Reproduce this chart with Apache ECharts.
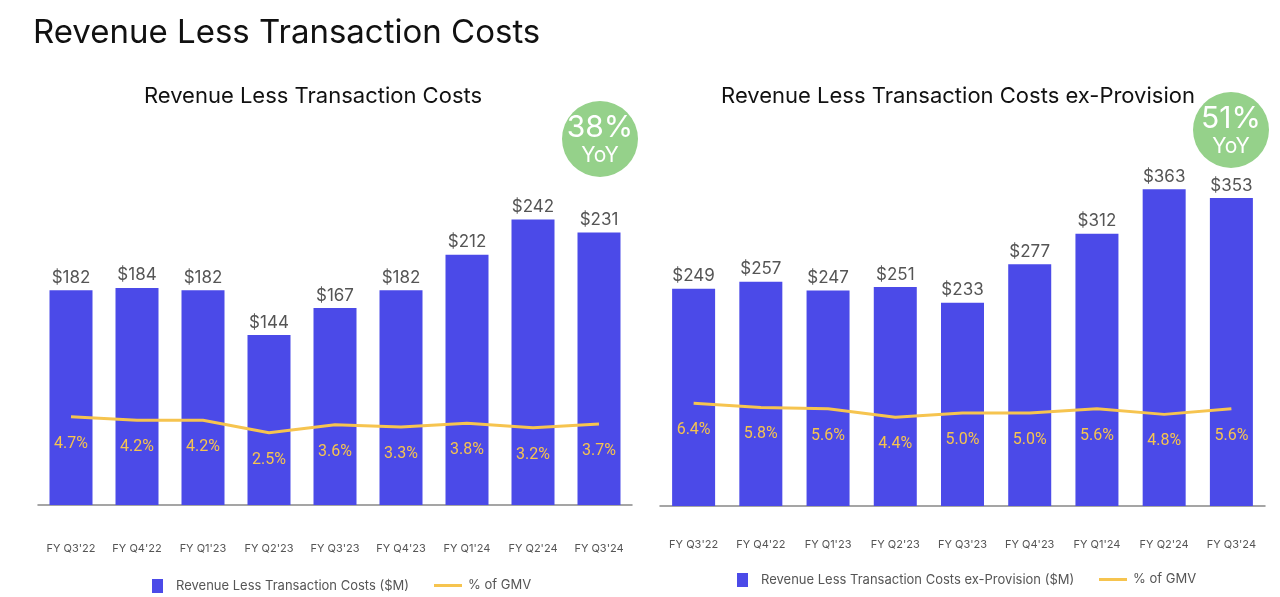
<!DOCTYPE html>
<html>
<head>
<meta charset="utf-8">
<script src="https://cdn.jsdelivr.net/npm/echarts@6/dist/echarts.min.js"></script>
<style>
  html, body { margin: 0; padding: 0; background: #fff; }
  #chart { width: 1280px; height: 597px; }
</style>
</head>
<body>
<div id="chart"></div>
<script>
const quarters = ["FY Q3'22", "FY Q4'22", "FY Q1'23", "FY Q2'23", "FY Q3'23", "FY Q4'23", "FY Q1'24", "FY Q2'24", "FY Q3'24"]

// left chart
const revenue = [182, 184, 182, 144, 167, 182, 212, 242, 231]
const revenueGmv = [4.7, 4.2, 4.2, 2.5, 3.6, 3.3, 3.8, 3.2, 3.7]
// right chart
const revenueExProv = [249, 257, 247, 251, 233, 277, 312, 363, 353]
const exProvGmv = [6.4, 5.8, 5.6, 4.4, 5.0, 5.0, 5.6, 4.8, 5.6]

const yoyLeft = '38%'
const yoyRight = '51%'

const FONT = 'Inter, "Noto Sans", sans-serif'
const BAR = '#4B4AE8'
const LINE = '#F6C44F'
const GREEN = '#95D18A'

const chart = echarts.init(document.getElementById('chart'))

const xAxisBase = (gridIndex, margin) => ({
  type: 'category',
  gridIndex,
  data: quarters,
  axisLine: { lineStyle: { color: '#888', width: 1.5 } },
  axisTick: { show: false },
  axisLabel: { color: '#555', fontSize: 11, fontFamily: FONT, margin },
})

const barSeries = (name, data, idx) => ({
  name,
  type: 'bar',
  xAxisIndex: idx,
  yAxisIndex: idx * 2,
  data,
  barWidth: 43,
  itemStyle: { color: BAR },
  label: {
    show: true,
    position: 'top',
    distance: 4,
    formatter: (p) => '$' + p.value,
    color: '#555',
    fontSize: 17,
    fontFamily: FONT,
  },
})

// symbolSize 0 so labels still render (symbol 'none' drops them)
const lineSeries = (data, idx) => ({
  name: '% of GMV',
  type: 'line',
  xAxisIndex: idx,
  yAxisIndex: idx * 2 + 1,
  data,
  symbol: 'circle',
  symbolSize: 0,
  showSymbol: true,
  z: 5,
  lineStyle: { color: LINE, width: 3 },
  itemStyle: { color: LINE },
  label: {
    show: true,
    position: 'bottom',
    distance: 19,
    formatter: (p) => p.value.toFixed(1) + '%',
    color: LINE,
    fontSize: 16,
    fontFamily: 'Roboto, sans-serif',
  },
})

const legendCommon = {
  orient: 'horizontal',
  padding: 0,
  textStyle: { color: '#555', fontSize: 13, fontFamily: FONT, padding: [0, 0, 0, 8] },
  selectedMode: false,
}

const option = {
  animation: false,
  backgroundColor: '#fff',
  title: [
    {
      text: 'Revenue Less Transaction Costs',
      left: 28, top: 12,
      textStyle: { fontSize: 33, fontWeight: 'normal', color: '#111', fontFamily: FONT },
    },
    {
      text: 'Revenue Less Transaction Costs',
      left: 308, top: 80, textAlign: 'center',
      textStyle: { fontSize: 22, fontWeight: 'normal', color: '#111', fontFamily: FONT },
    },
    {
      text: 'Revenue Less Transaction Costs ex-Provision',
      left: 953, top: 80, textAlign: 'center',
      textStyle: { fontSize: 22, fontWeight: 'normal', color: '#111', fontFamily: FONT },
    },
  ],
  legend: [
    { ...legendCommon, left: 152, top: 579, itemWidth: 11, itemHeight: 14,
      data: [{ name: 'Revenue Less Transaction Costs ($M)', icon: 'rect' }] },
    { ...legendCommon, left: 434, top: 579, itemWidth: 28, itemHeight: 3,
      textStyle: { ...legendCommon.textStyle, padding: [0, 0, 0, 1] },
      data: [{ name: '% of GMV', icon: 'rect' }] },
    { ...legendCommon, left: 737, top: 573, itemWidth: 11, itemHeight: 14,
      data: [{ name: 'Revenue Less Transaction Costs ex-Provision ($M)', icon: 'rect' }] },
    { ...legendCommon, left: 1099, top: 573, itemWidth: 28, itemHeight: 3,
      textStyle: { ...legendCommon.textStyle, padding: [0, 0, 0, 1] },
      data: [{ name: '% of GMV', icon: 'rect' }] },
  ],
  grid: [
    { left: 38, right: 648, top: 151, bottom: 92 },
    { left: 660, right: 15, top: 157, bottom: 91 },
  ],
  xAxis: [xAxisBase(0, 38), xAxisBase(1, 33)],
  yAxis: [
    { type: 'value', gridIndex: 0, min: 0, max: 300, show: false },
    { type: 'value', gridIndex: 0, min: -7.4, max: 41.1, show: false },
    { type: 'value', gridIndex: 1, min: 0, max: 400, show: false },
    { type: 'value', gridIndex: 1, min: -8.3, max: 41.6, show: false },
  ],
  series: [
    barSeries('Revenue Less Transaction Costs ($M)', revenue, 0),
    lineSeries(revenueGmv, 0),
    barSeries('Revenue Less Transaction Costs ex-Provision ($M)', revenueExProv, 1),
    lineSeries(exProvGmv, 1),
  ],
  graphic: [
    { type: 'circle', shape: { cx: 600, cy: 139, r: 38 }, style: { fill: GREEN } },
    { type: 'text', x: 600, y: 128, style: { text: yoyLeft, fill: '#fff', fontSize: 30, fontFamily: FONT, align: 'center', verticalAlign: 'middle' } },
    { type: 'text', x: 600, y: 156, style: { text: 'YoY', fill: '#fff', fontSize: 21, fontFamily: FONT, align: 'center', verticalAlign: 'middle' } },
    { type: 'circle', shape: { cx: 1231, cy: 130, r: 38 }, style: { fill: GREEN } },
    { type: 'text', x: 1231, y: 119, style: { text: yoyRight, fill: '#fff', fontSize: 30, fontFamily: FONT, align: 'center', verticalAlign: 'middle' } },
    { type: 'text', x: 1231, y: 147, style: { text: 'YoY', fill: '#fff', fontSize: 21, fontFamily: FONT, align: 'center', verticalAlign: 'middle' } },
  ],
}

chart.setOption(option)
window.addEventListener('resize', () => chart.resize())
</script>
</body>
</html>
